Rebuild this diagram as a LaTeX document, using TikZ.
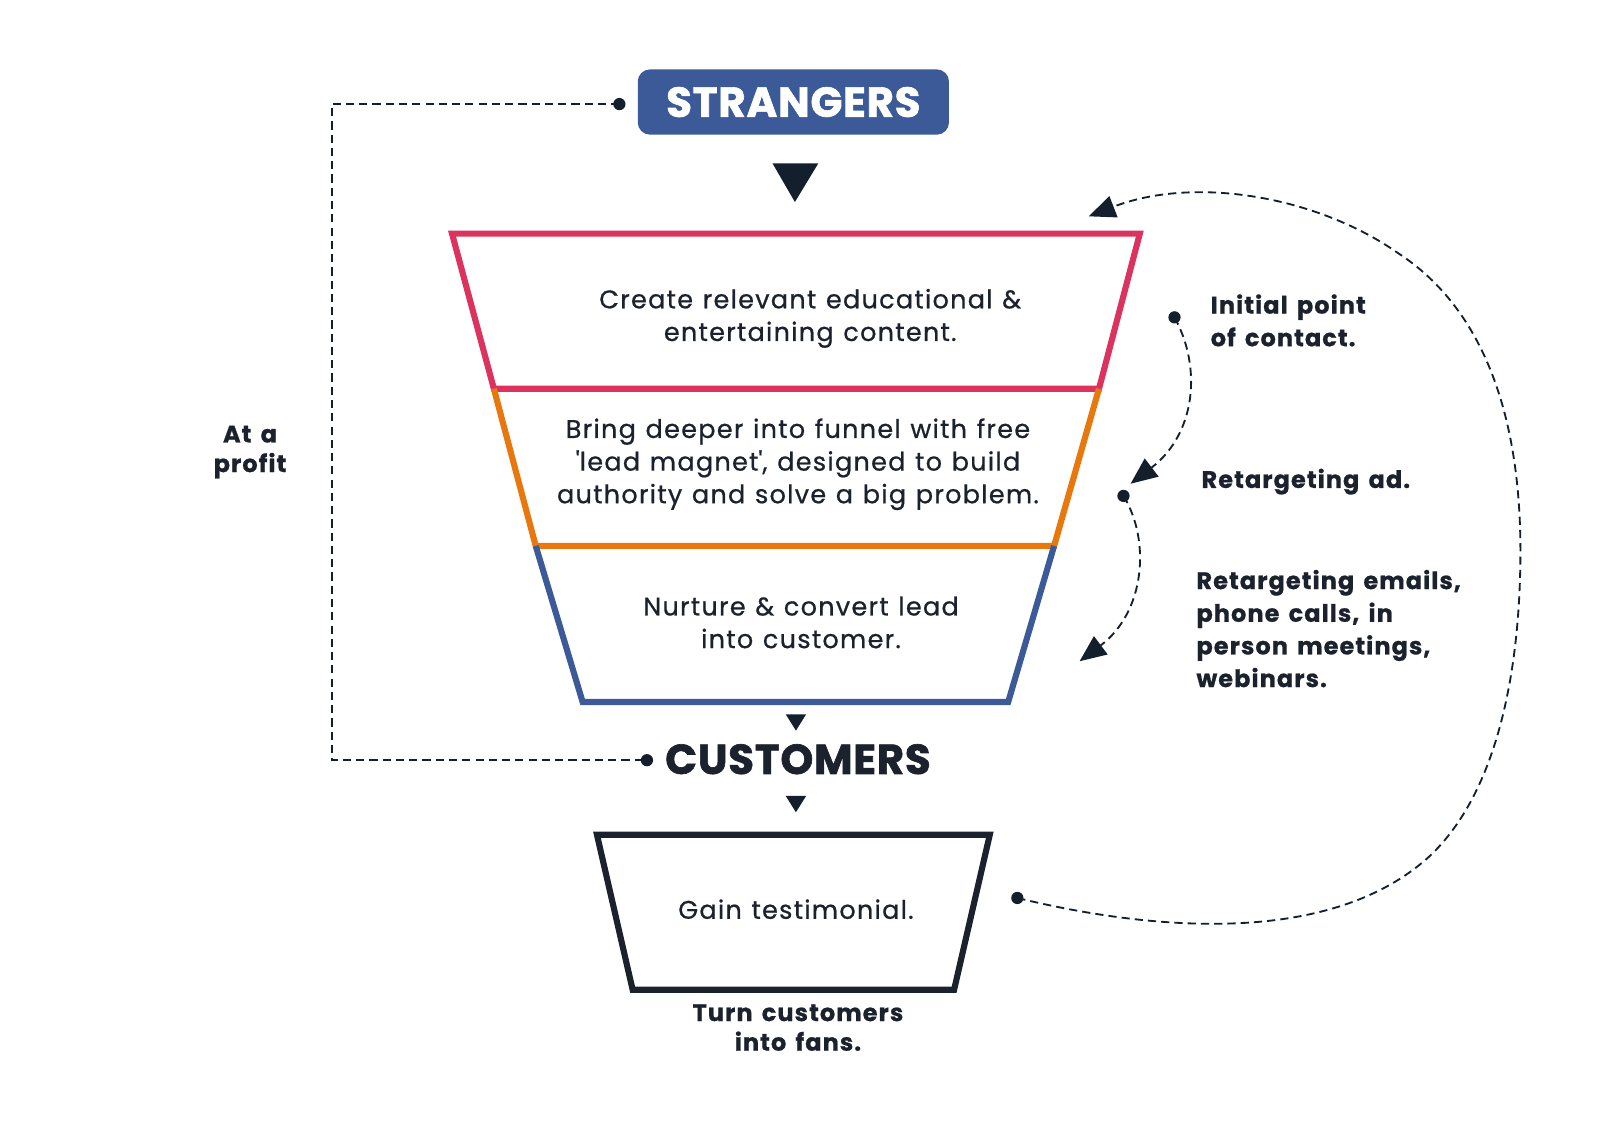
\documentclass[tikz,border=0pt]{standalone}
\usepackage{fontspec}
\setmainfont{Poppins}
\newfontfamily\bodyfont{Poppins}[LetterSpace=5,FakeBold=0.7,WordSpace=1.2]
\newfontfamily\lblfont{Poppins}[LetterSpace=4.5,WordSpace=1.5,BoldFeatures={FakeBold=0.8}]
\newfontfamily\headfont{Poppins}[LetterSpace=2,BoldFeatures={FakeBold=1.5}]
\usetikzlibrary{arrows.meta}
\definecolor{ink}{RGB}{27,34,46}
\definecolor{navy}{RGB}{19,31,45}
\definecolor{fpink}{RGB}{220,50,95}
\definecolor{forange}{RGB}{232,120,14}
\definecolor{fblue}{RGB}{60,90,152}
\tikzset{
  body/.style={align=center,text=ink,font=\bodyfont\fontsize{25}{32}\selectfont},
  lbl/.style={align=left,text=ink,font=\lblfont\bfseries\fontsize{23.5}{32}\selectfont},
  lblc/.style={align=center,text=ink,font=\lblfont\bfseries\fontsize{23.5}{29}\selectfont},
  head/.style={inner sep=0pt,font=\headfont\bfseries\fontsize{41}{44}\selectfont},
  seg/.style={line width=6pt,line join=miter},
  dsh/.style={draw=navy,line width=1.8pt,dash pattern=on 8pt off 5pt},
  tip/.style={-{Triangle[length=26pt,width=22pt]}},
  dotf/.style={fill=navy},
}
\begin{document}
\begin{tikzpicture}[x=1pt,y=-1pt]
\useasboundingbox[fill=white] (0,0) rectangle (1568,1107);
% strangers box
\node[fill=fblue,rounded corners=12pt,minimum width=305pt,minimum height=64pt,text=white,head] (str) at (777.5,100) {STRANGERS};
\fill[navy] (757,160) -- (802,160) -- (779,198) -- cycle;
% funnel
\draw[seg,fpink] (443,229) -- (1117,229) -- (1077,381) -- (484,381) -- cycle;
\draw[seg,forange] (484,381) -- (525,535) -- (1033,535) -- (1077,381);
\draw[seg,fblue] (525,535) -- (571,688) -- (988,688) -- (1033,535);
\node[body] (t1) at (794,312) {Create relevant educational \&\\entertaining content.};
\node[body] (t2) at (782,455) {Bring deeper into funnel with free\\\textquotesingle lead magnet\textquotesingle, designed to build\\authority and solve a big problem.};
\node[body] (t3) at (785,610) {Nurture \& convert lead\\into customer.};
\fill[navy] (770,700) -- (790,700) -- (780,716) -- cycle;
\node[text=ink,head] (cust) at (782,744) {CUSTOMERS};
\fill[navy] (770,780) -- (790,780) -- (780,796) -- cycle;
% bottom trapezoid
\draw[seg,ink] (585,818) -- (970,818) -- (935,970) -- (620,970) -- cycle;
\node[body] (t4) at (780,891) {Gain testimonial.};
\node[lblc] (fans) at (782,1007) {Turn customers\\into fans.};
% left dashed loop
\coordinate (d1) at (607,102);
\coordinate (d2) at (634,745);
\draw[dsh] (d1) -- (325,102) -- (325,745) -- (d2);
\fill[dotf] (d1) circle (6pt);
\fill[dotf] (d2) circle (6pt);
\node[lblc] (profit) at (245,443) {At a\\profit};
% right labels
\node[lbl,anchor=west] (l1) at (1183,314) {Initial point\\of contact.};
\node[lbl,anchor=west] (l2) at (1174,472) {Retargeting ad.};
\node[lbl,anchor=west] (l3) at (1169,616) {Retargeting emails,\\phone calls, in\\person meetings,\\webinars.};
% right curved arrows
\coordinate (c1) at (1151,311);
\coordinate (a1) at (1108,474);
\coordinate (c2) at (1101,486);
\coordinate (a2) at (1058,648);
\draw[dsh,tip] (c1) .. controls (1178,360) and (1172,425) .. (a1);
\fill[dotf] (c1) circle (6pt);
\draw[dsh,tip] (c2) .. controls (1128,530) and (1122,600) .. (a2);
\fill[dotf] (c2) circle (6pt);
% big loop
\coordinate (c3) at (997,880);
\coordinate (a3) at (1067,212);
\draw[dsh,tip] (c3) .. controls (1120,910) and (1300,930) .. (1400,840)
  .. controls (1470,775) and (1490,650) .. (1490,540)
  .. controls (1490,400) and (1450,300) .. (1370,248)
  .. controls (1290,192) and (1170,172) .. (a3);
\fill[dotf] (c3) circle (6pt);
\end{tikzpicture}
\end{document}
